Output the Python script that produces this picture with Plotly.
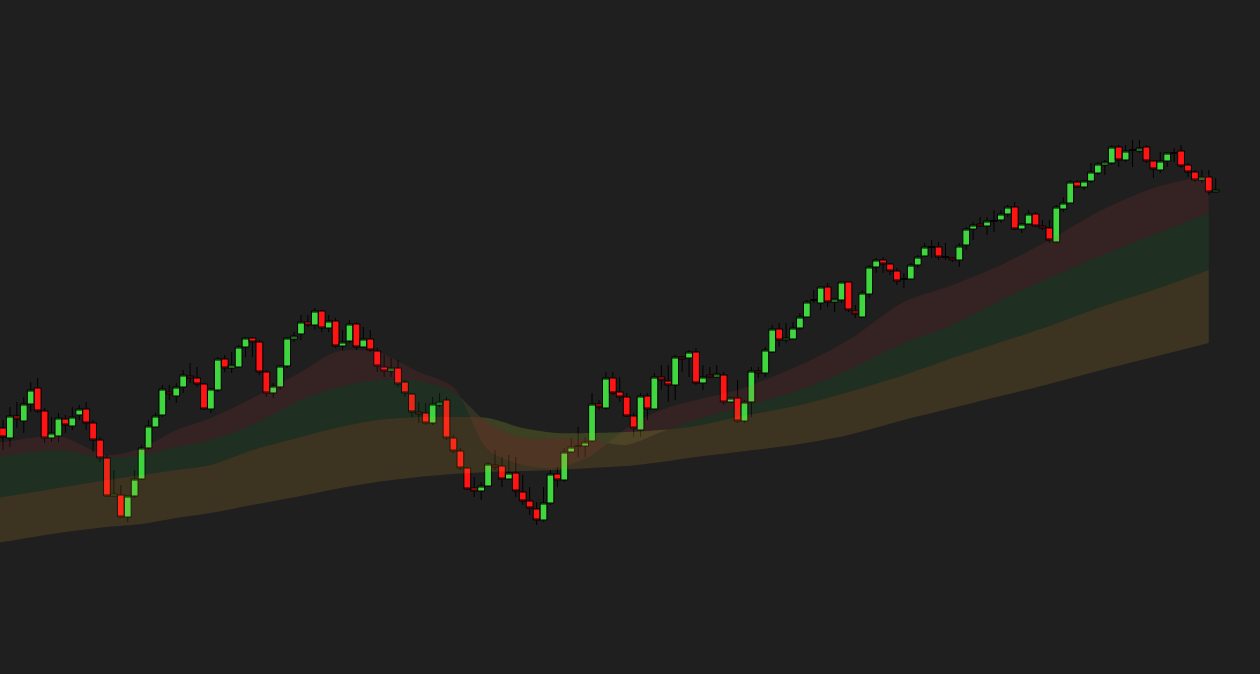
import plotly.graph_objects as go

# ---------------- OHLC data (176 sessions) ----------------
opens = [246,236,258,253,270,286,263,236,238,255,248,259,265,251,234,216,178,179,157,178,
         195,226,247,259,282,278,287,298,296,290,265,284,315,306,307,327,336,332,302,281,
         287,308,335,340,352,349,363,346,353,328,333,350,327,335,323,307,303,306,292,280,
         262,261,251,269,274,236,223,206,186,183,188,209,208,195,201,182,173,165,154,171,
         200,194,222,228,228,233,270,266,296,282,277,258,244,278,265,297,293,289,317,316,
         322,291,299,297,299,272,276,253,272,303,301,322,345,334,335,346,357,374,371,387,
         372,374,392,363,357,380,407,414,410,403,395,395,409,418,427,427,417,416,414,429,
         445,450,448,453,454,460,467,445,450,460,448,446,432,465,471,492,487,493,501,509,
         511,527,514,524,523,527,513,504,513,521,523,509,502,494,497,482]
highs = [254,267,272,277,292,296,266,257,261,259,267,269,272,254,237,219,204,189,178,204,
         229,254,261,289,289,291,304,311,307,291,286,317,319,322,329,337,337,334,304,291,
         309,337,342,359,359,366,364,359,356,344,354,352,347,344,326,319,316,314,294,281,
         272,271,277,281,277,239,226,207,197,192,212,224,217,219,217,199,187,172,187,204,
         207,226,236,247,237,281,274,302,302,297,281,261,281,281,301,309,309,319,318,324,
         326,309,307,309,302,277,294,274,307,307,327,349,351,351,352,361,374,384,387,391,
         375,392,392,369,384,409,416,417,411,406,401,411,419,431,434,432,431,417,431,447,
         452,457,457,464,464,469,472,451,464,462,454,454,469,477,494,494,494,511,512,514,
         529,529,529,534,534,529,514,522,522,526,529,511,504,504,504,496]
lows = [224,227,246,241,262,261,231,232,232,241,244,254,244,222,212,177,177,156,152,176,
        194,224,246,257,274,271,281,291,287,264,261,282,302,301,306,317,317,299,277,276,
        284,306,332,334,347,344,342,342,326,324,331,324,326,322,302,297,297,287,277,257,
        251,249,249,267,234,221,204,184,177,174,187,204,187,194,177,169,159,149,152,169,
        187,192,221,217,217,232,264,264,279,272,257,237,237,254,264,284,272,274,302,297,
        289,284,296,296,269,271,251,251,257,296,297,321,327,331,334,344,356,371,364,367,
        362,371,362,356,356,376,401,401,399,389,386,394,406,417,416,414,414,412,407,424,
        434,447,439,442,451,457,444,441,449,447,444,431,431,462,471,486,484,491,499,499,
        509,507,512,507,521,511,496,501,507,512,506,497,492,491,479,482]
closes = [237,258,255,270,284,263,236,241,256,249,257,265,251,234,216,178,180,157,178,195,
          226,248,258,285,280,287,299,296,290,265,285,315,306,309,327,336,332,302,281,288,
          308,336,338,352,349,363,346,353,328,332,350,327,335,324,308,303,306,290,281,262,
          260,251,270,272,236,223,206,185,183,188,210,207,195,201,183,173,166,154,171,200,
          194,222,227,228,232,270,267,296,281,277,258,246,278,265,297,294,289,317,315,322,
          291,297,297,300,272,276,253,272,303,301,324,345,334,336,346,357,372,374,387,372,
          375,392,364,360,381,407,414,410,403,393,395,409,417,427,427,417,417,414,428,445,
          449,448,453,453,460,467,445,450,460,448,446,434,467,471,492,487,493,502,510,512,
          527,514,523,524,526,513,505,513,521,521,508,502,494,497,482,484]
sessions = list(range(len(opens)))

# ---------------- moving-average ribbon (read at sample sessions) ----------------
band_sessions = [-1, 0, 8, 15, 20, 25, 30, 36, 43, 48, 54, 60, 65, 70, 75, 80, 85, 90,
                 95, 100, 106, 115, 122, 130, 137, 144, 151, 158, 166, 174]
ma_fast = [232,232,238,219,226,244,256,276,302,322,322,302,287,224,209,206,219,246,
           264,274,284,309,334,372,389,409,434,462,486,499]
ma_mid = [217,218,224,216,219,227,234,249,274,286,294,293,282,251,236,236,234,229,
          242,254,266,284,304,331,349,374,396,417,439,461]
ma_slow = [176,177,186,194,199,204,209,224,237,246,254,257,257,256,246,241,241,242,
           244,248,257,269,282,299,316,332,348,366,384,404]
ma_long = [131,132,141,147,150,156,161,169,178,185,192,197,200,202,203,204,206,208,
           212,217,222,230,239,254,266,278,290,303,317,331]

BG = "#1f1f1f"
fig = go.Figure()

def band(upper, lower, color):
    fig.add_trace(go.Scatter(x=band_sessions, y=upper, mode="lines",
                             line=dict(width=0, shape="spline", smoothing=0.8),
                             hoverinfo="skip", showlegend=False))
    fig.add_trace(go.Scatter(x=band_sessions, y=lower, mode="lines",
                             line=dict(width=0, shape="spline", smoothing=0.8),
                             fill="tonexty", fillcolor=color, hoverinfo="skip",
                             showlegend=False))

band(ma_fast, ma_mid, "rgba(255,70,70,0.10)")
band(ma_mid, ma_slow, "rgba(40,210,70,0.10)")
band(ma_slow, ma_long, "rgba(225,170,45,0.15)")

fig.add_trace(go.Candlestick(
    x=sessions, open=opens, high=highs, low=lows, close=closes,
    increasing=dict(line=dict(color="#000000", width=1), fillcolor="#3fd63f"),
    decreasing=dict(line=dict(color="#000000", width=1), fillcolor="#ff1414"),
    whiskerwidth=0, showlegend=False))

fig.update_layout(
    width=1260, height=674,
    margin=dict(l=0, r=0, t=0, b=0, pad=0),
    paper_bgcolor=BG, plot_bgcolor=BG,
    boxgap=0.02, boxgroupgap=0,
    showlegend=False,
    xaxis=dict(range=[-0.433, 181.39], visible=False, showgrid=False, zeroline=False,
               rangeslider=dict(visible=False), fixedrange=True),
    yaxis=dict(range=[0, 674], visible=False, showgrid=False, zeroline=False,
               fixedrange=True),
)

fig.write_html(
    "out.html",
    config={"displayModeBar": False},
    post_script="document.body.style.margin='0';document.body.style.padding='0';"
                "document.body.style.background='#1f1f1f';"
                "document.body.style.overflow='hidden';",
)
